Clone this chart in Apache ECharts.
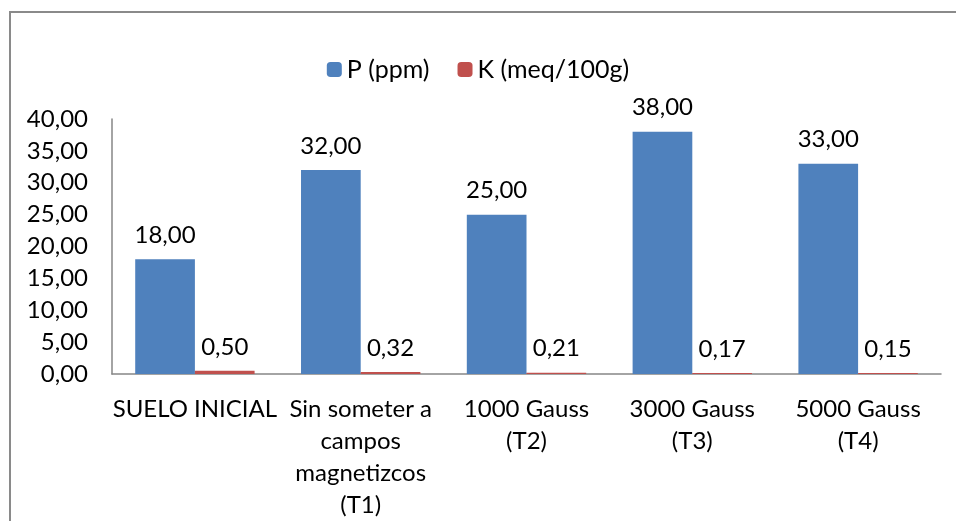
<!DOCTYPE html>
<html>
<head>
<meta charset="utf-8">
<script src="https://cdn.jsdelivr.net/npm/echarts@6/dist/echarts.min.js"></script>
<style>
  html, body { margin: 0; padding: 0; background: #fff; }
  #chart { width: 956px; height: 521px; }
</style>
</head>
<body>
<div id="chart"></div>
<script>
// Categories (treatments) and measured values
var categories = [
  'SUELO INICIAL',
  'Sin someter a\ncampos\nmagnetizcos\n(T1)',
  '1000 Gauss\n(T2)',
  '3000 Gauss\n(T3)',
  '5000 Gauss\n(T4)'
];
var seriesNames = ['P (ppm)', 'K (meq/100g)'];
var phosphorus = [18.00, 32.00, 25.00, 38.00, 33.00];
var potassium = [0.50, 0.32, 0.21, 0.17, 0.15];

var FONT = 'Lato';
var FS = 24;

function fmt(v) {
  return Number(v).toFixed(2).replace('.', ',');
}

var chart = echarts.init(document.getElementById('chart'), null, { renderer: 'canvas' });

var labelCfg = {
  show: true,
  position: 'top',
  distance: 12,
  color: '#000',
  fontFamily: FONT,
  fontSize: FS,
  formatter: function (p) { return fmt(p.value); }
};

chart.setOption({
  animation: false,
  backgroundColor: '#fff',
  textStyle: { fontFamily: FONT },
  graphic: [{
    type: 'rect',
    shape: { x: 10, y: 12, width: 1000, height: 600 },
    style: { fill: 'none', stroke: '#8a8a8a', lineWidth: 2 },
    silent: true,
    z: -1
  }],
  legend: {
    data: seriesNames,
    top: 52,
    left: 'center',
    itemWidth: 15,
    itemHeight: 15,
    itemGap: 28,
    textStyle: { fontFamily: FONT, fontSize: 25, color: '#000' }
  },
  grid: { left: 112, right: 15, top: 119, bottom: 144, containLabel: false },
  xAxis: {
    type: 'category',
    data: categories,
    axisLine: { lineStyle: { color: '#868686', width: 1.5 } },
    axisTick: { show: false },
    axisLabel: {
      interval: 0,
      margin: 19,
      color: '#000',
      fontFamily: FONT,
      fontSize: FS,
      lineHeight: 32,
      align: 'center'
    }
  },
  yAxis: {
    type: 'value',
    min: 0,
    max: 40,
    interval: 5,
    axisLine: { show: true, lineStyle: { color: '#868686', width: 1.5 } },
    axisTick: { show: false },
    splitLine: { show: false },
    axisLabel: {
      margin: 24,
      color: '#000',
      fontFamily: FONT,
      fontSize: FS,
      formatter: fmt
    }
  },
  series: [
    {
      name: seriesNames[0],
      type: 'bar',
      data: phosphorus,
      barGap: '0%',
      barCategoryGap: '28%',
      itemStyle: { color: '#4F81BD' },
      label: labelCfg
    },
    {
      name: seriesNames[1],
      type: 'bar',
      data: potassium,
      barGap: '0%',
      barCategoryGap: '28%',
      itemStyle: { color: '#C0504D' },
      label: labelCfg
    }
  ]
});
</script>
</body>
</html>
